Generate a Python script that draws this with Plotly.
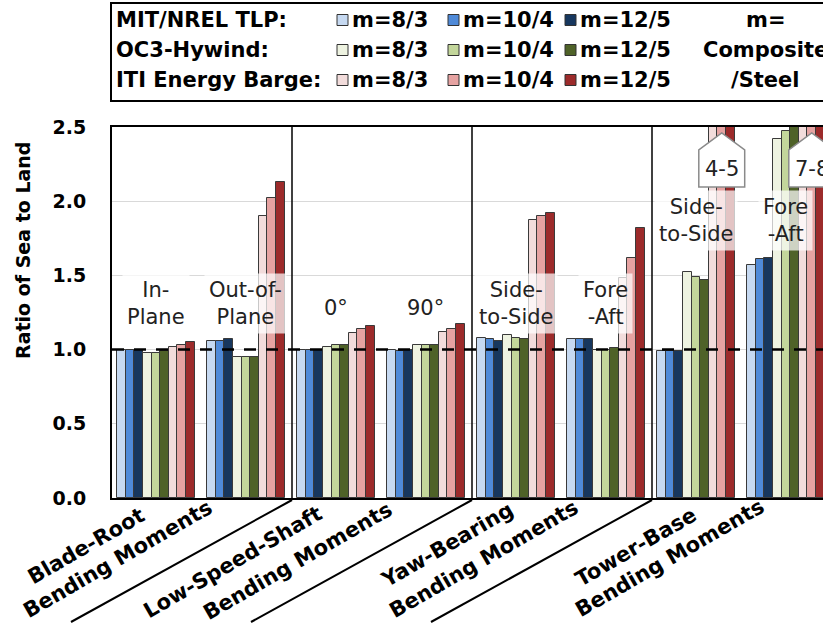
import plotly.graph_objects as go

# ---------------- data ----------------
subgroups = ["In-Plane", "Out-of-Plane", "0°", "90°",
             "Side-to-Side (yaw)", "Fore-Aft (yaw)", "Side-to-Side (tower)", "Fore-Aft (tower)"]
sub_labels = ["In-<br>Plane", "Out-of-<br>Plane", "0°", "90°",
              "Side-<br>to-Side", "Fore<br>-Aft", "Side-<br>to-Side", "Fore<br>-Aft"]
sub_label_y = [1.31, 1.31, 1.28, 1.28, 1.31, 1.31, 1.87, 1.87]

categories_line1 = ["Blade-Root", "Low-Speed-Shaft", "Yaw-Bearing", "Tower-Base"]
categories_line2 = ["Bending Moments"] * 4

platforms = ["MIT/NREL TLP:", "OC3-Hywind:", "ITI Energy Barge:"]
ratios = ["m=8/3", "m=10/4", "m=12/5"]

tlp_8_3 = [1.00, 1.06, 1.00, 1.00, 1.08, 1.07, 0.99, 1.57]
tlp_10_4 = [1.00, 1.06, 1.00, 0.99, 1.07, 1.07, 0.99, 1.61]
tlp_12_5 = [1.00, 1.07, 1.00, 1.00, 1.06, 1.07, 0.99, 1.62]
hyw_8_3 = [0.98, 0.95, 1.02, 1.03, 1.10, 1.00, 1.52, 2.42]
hyw_10_4 = [0.98, 0.95, 1.03, 1.03, 1.08, 1.00, 1.49, 2.47]
hyw_12_5 = [0.99, 0.95, 1.03, 1.03, 1.07, 1.01, 1.47, 2.50]
brg_8_3 = [1.02, 1.90, 1.11, 1.12, 1.87, 1.48, 4.3, 7.3]
brg_10_4 = [1.03, 2.02, 1.14, 1.14, 1.90, 1.62, 4.6, 7.6]
brg_12_5 = [1.05, 2.13, 1.16, 1.17, 1.92, 1.82, 4.9, 7.9]

series = [tlp_8_3, tlp_10_4, tlp_12_5, hyw_8_3, hyw_10_4, hyw_12_5, brg_8_3, brg_10_4, brg_12_5]
series_names = [p.rstrip(":") + " " + r for p in platforms for r in ratios]
colors = [["#C6D9F1", "#4F8AD8", "#17375E"],
          ["#EEF3E1", "#C3D69B", "#4F6228"],
          ["#F2DCDB", "#E6A3A2", "#9C2B2B"]]
flat_colors = [c for row in colors for c in row]

offscale_labels = ["4-5", "7-8"]

# ---------------- layout helpers ----------------
W, H = 823, 626
PL, PT, PR, PB = 112, 127, 823, 498
XMAX = 79.0
BAR_W = 0.96
START = 0.55
FONT = "DejaVu Sans"


def bar_x(k, j):
    return 10 * k + START + (j + 0.5) * BAR_W


def px_x(px):
    return (px - PL) / (PR - PL)


def px_y(py):
    return (PB - py) / (PB - PT)


def dx_paper(d):
    return d / XMAX


fig = go.Figure()

for j, vals in enumerate(series):
    fig.add_trace(go.Bar(
        x=[bar_x(k, j) for k in range(len(vals))],
        y=vals,
        width=BAR_W,
        name=series_names[j],
        marker=dict(color=flat_colors[j], line=dict(color="#3a3a3a", width=1)),
        showlegend=False,
    ))

shapes = []
annotations = []

# reference dashed line at 1.0
shapes.append(dict(type="line", xref="x", yref="y", x0=0, x1=XMAX, y0=1.0, y1=1.0,
                   line=dict(color="black", width=2.5, dash="12px,10px"), layer="above"))

# panel separators and diagonal label dividers
for p in range(1, 4):
    xs = 20 * p
    shapes.append(dict(type="line", xref="x", yref="paper", x0=xs, x1=xs, y0=0, y1=1,
                       line=dict(color="black", width=1.5)))
    xp = dx_paper(xs)
    shapes.append(dict(type="line", xref="paper", yref="paper",
                       x0=xp, y0=px_y(500), x1=xp - 221 / (PR - PL), y1=px_y(622),
                       line=dict(color="black", width=2)))

# sub-group labels
for k, lab in enumerate(sub_labels):
    annotations.append(dict(x=10 * k + START + 4.5 * BAR_W, y=sub_label_y[k], xref="x", yref="y",
                            xanchor="center", yanchor="middle",
                            text=lab, showarrow=False,
                            font=dict(family=FONT, size=21, color="#222"),
                            bgcolor="rgba(255,255,255,0.72)", borderpad=4))

# off-scale pointers
for i, lab in enumerate(offscale_labels):
    cx = bar_x(6 + i, 7)
    hw = 2.55
    path = (f"M {cx - hw},2.096 L {cx - hw},2.345 L {cx},2.46 "
            f"L {cx + hw},2.345 L {cx + hw},2.096 Z")
    shapes.append(dict(type="path", xref="x", yref="y", path=path,
                       fillcolor="white", line=dict(color="#8a8a8a", width=1.5), layer="above"))
    annotations.append(dict(x=cx, y=2.215, xref="x", yref="y", text=lab, showarrow=False,
                            xanchor="center", yanchor="middle",
                            font=dict(family=FONT, size=21, color="#222")))

# category labels below the axis (rotated)
line1_end = [(150, 502), (328, 500), (519, 496), (702, 501)]
line2_end = [(218, 494), (398, 496), (584, 494), (770, 493)]
for c in range(4):
    for txt, (ex, ey) in ((categories_line1[c], line1_end[c]), (categories_line2[c], line2_end[c])):
        annotations.append(dict(x=px_x(ex), y=px_y(ey), xref="paper", yref="paper",
                                xanchor="right", yanchor="top", text=txt, showarrow=False,
                                textangle=-30, borderpad=0,
                                font=dict(family=FONT, size=21, color="black", weight="bold")))

# y-axis title
annotations.append(dict(x=px_x(23), y=px_y(251), xref="paper", yref="paper",
                        xanchor="center", yanchor="middle",
                        text="Ratio of Sea to Land", textangle=-90, showarrow=False,
                        font=dict(family=FONT, size=19, color="black", weight="bold")))

# legend box
shapes.append(dict(type="rect", xref="paper", yref="paper",
                   x0=px_x(111), x1=px_x(850), y0=px_y(3), y1=px_y(101),
                   line=dict(color="black", width=2), fillcolor="white"))
row_y = [20, 50, 80]
sq_x = [337, 448, 565]
SQ = 11
for r in range(3):
    annotations.append(dict(x=px_x(114), y=px_y(row_y[r]), xref="paper", yref="paper",
                            xanchor="left", yanchor="middle", text=platforms[r], showarrow=False,
                            font=dict(family=FONT, size=21, color="black", weight="bold")))
    for c in range(3):
        shapes.append(dict(type="rect", xref="paper", yref="paper",
                           x0=px_x(sq_x[c]), x1=px_x(sq_x[c] + SQ),
                           y0=px_y(row_y[r] + SQ / 2), y1=px_y(row_y[r] - SQ / 2),
                           fillcolor=colors[r][c], line=dict(color="#333", width=1)))
        annotations.append(dict(x=px_x(sq_x[c] + SQ + 2), y=px_y(row_y[r]), xref="paper", yref="paper",
                                xanchor="left", yanchor="middle", text=ratios[c], showarrow=False,
                                font=dict(family=FONT, size=21, color="black", weight="bold")))
for r, txt in enumerate(["m=", "Composite", "/Steel"]):
    annotations.append(dict(x=px_x(765), y=px_y(row_y[r]), xref="paper", yref="paper",
                            xanchor="center", yanchor="middle", text=txt, showarrow=False,
                            font=dict(family=FONT, size=21, color="black", weight="bold")))

fig.update_layout(
    width=W, height=H,
    margin=dict(l=PL, r=W - PR, t=PT, b=H - PB, autoexpand=False),
    paper_bgcolor="white", plot_bgcolor="white",
    barmode="overlay", bargap=0,
    shapes=shapes, annotations=annotations,
    xaxis=dict(range=[0, XMAX], showticklabels=False, showgrid=False, zeroline=False,
               showline=True, linecolor="black", linewidth=2, mirror=True, ticks=""),
    yaxis=dict(range=[0, 2.5], dtick=0.5, tickformat=".1f", showgrid=True, gridcolor="#D9D9D9",
               gridwidth=1, zeroline=False, showline=True, linecolor="black", linewidth=2,
               ticks="", ticklabelstandoff=20,
               tickfont=dict(family=FONT, size=19, color="black", weight="bold")),
)

fig.write_html("out.html", config={"displayModeBar": False},
               post_script="document.body.style.margin='0px';")
